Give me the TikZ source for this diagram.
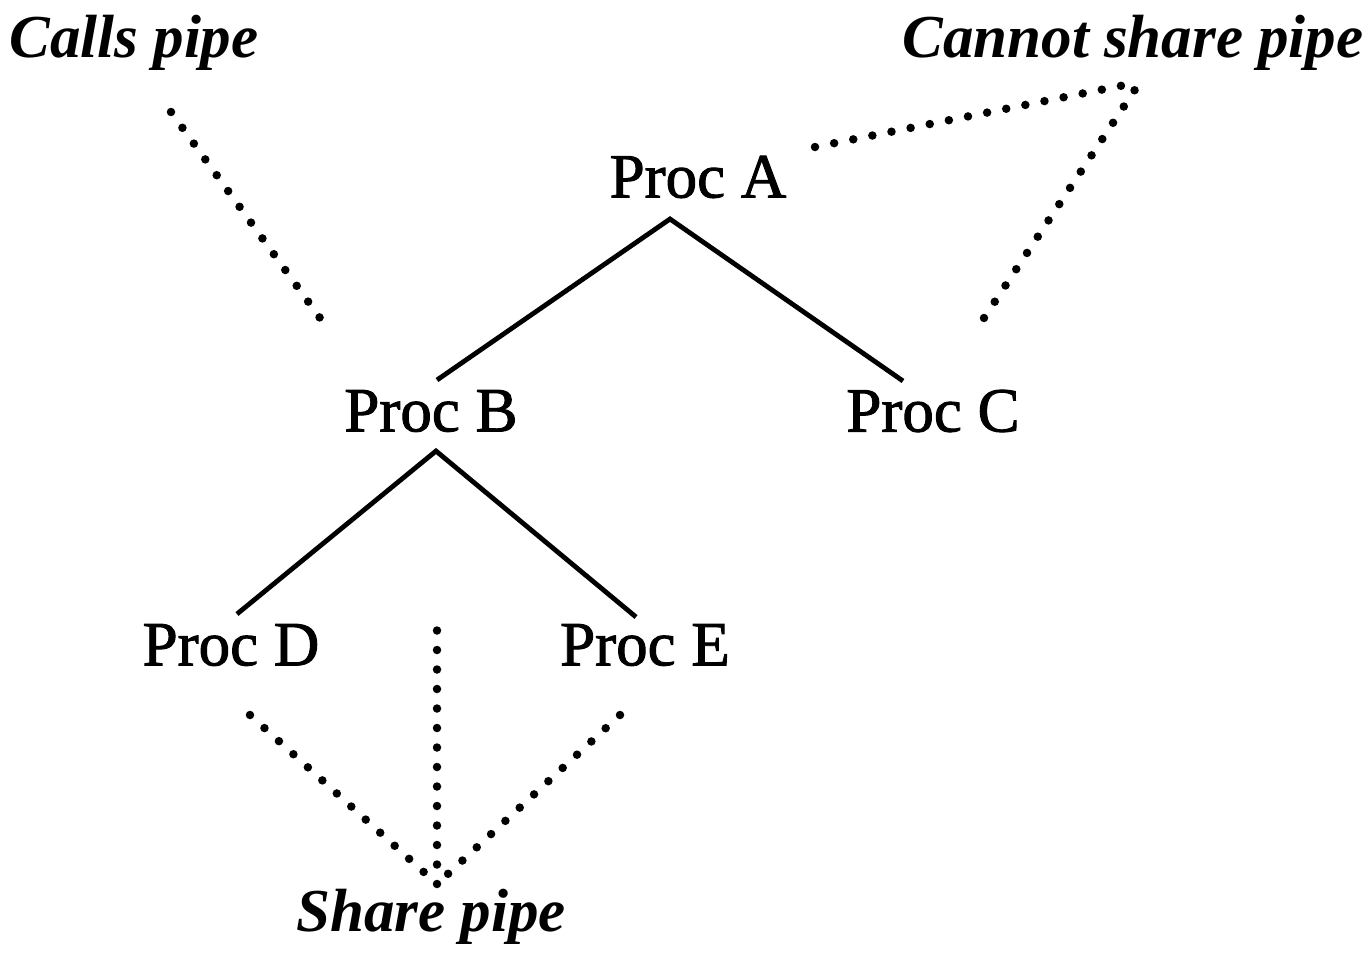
\documentclass[tikz,border=0pt]{standalone}
\usepackage{fontspec}
\setmainfont{Liberation Serif}
\newfontfamily\procfont[RawFeature={embolden=1.5}]{Liberation Serif}
\begin{document}
\begin{tikzpicture}[x=1pt,y=-1pt,
  proc/.style={inner sep=0pt, font=\fontsize{63}{70}\selectfont\procfont},
  lbl/.style={inner sep=0pt, font=\fontsize{61}{70}\selectfont\bfseries\itshape},
  tree/.style={line width=4.8pt},
  dots/.style={line width=8.5pt, line cap=round, dash pattern=on 0pt off 19.5pt}]
\useasboundingbox (0,0) rectangle (1372,966);
\node[proc] (A) at (698,177) {Proc A};
\node[proc] (B) at (431,411) {Proc B};
\node[proc] (C) at (933,411) {Proc C};
\node[proc] (D) at (231,645) {Proc D};
\node[proc] (E) at (645,645) {Proc E};
\node[lbl] (calls) at (134,43) {Calls pipe};
\node[lbl] (cannot) at (1133,43) {Cannot share pipe};
\node[lbl] (share) at (431,917) {Share pipe};
% tree connector ends
\coordinate (aT) at (670,219);
\coordinate (bT) at (437,380);
\coordinate (cT) at (903,381);
\coordinate (bB) at (436,451);
\coordinate (dT) at (237,614);
\coordinate (eT) at (636,617);
\draw[tree] (bT) -- (aT) -- (cT);
\draw[tree] (dT) -- (bB) -- (eT);
% dotted annotation lines
\coordinate (c1) at (171,112);
\coordinate (c2) at (320,318);
\draw[dots] (c1) -- (c2);
\coordinate (n0) at (1140,82);
\coordinate (n1) at (815,147);
\coordinate (n2) at (984,318);
\draw[dots] (n1) -- (n0);
\draw[dots] (n2) -- (n0);
\coordinate (s0) at (437,884);
\coordinate (s1) at (250,715);
\coordinate (s2) at (437,630);
\coordinate (s3) at (620,715);
\draw[dots] (s1) -- (s0);
\draw[dots] (s0) -- (s2);
\draw[dots] (s3) -- (s0);
\end{tikzpicture}
\end{document}
